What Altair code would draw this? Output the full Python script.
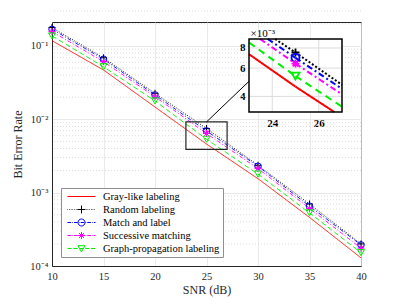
import altair as alt
import pandas as pd

# ---------------- data ----------------
snr = [10, 15, 20, 25, 30, 35, 40]
series_names = ["Gray-like labeling", "Random labeling", "Match and label",
                "Successive matching", "Graph-propagation labeling"]
ber_gray = [0.118, 0.047, 0.0147, 4.6e-3, 1.55e-3, 4.6e-4, 1.29e-4]
ber_random = [0.178, 0.069, 0.0226, 7.5e-3, 2.36e-3, 7.0e-4, 2.0e-4]
ber_match = [0.169, 0.066, 0.0215, 6.95e-3, 2.29e-3, 6.55e-4, 1.94e-4]
ber_succ = [0.157, 0.061, 0.0203, 6.4e-3, 2.13e-3, 6.1e-4, 1.75e-4]
ber_graph = [0.137, 0.052, 0.0178, 5.35e-3, 1.79e-3, 5.3e-4, 1.52e-4]
all_ber = [ber_gray, ber_random, ber_match, ber_succ, ber_graph]

x_ticks = [10, 15, 20, 25, 30, 35, 40]
y_ticks = [1e-4, 1e-3, 1e-2, 1e-1]
y_minor = [m * 10.0 ** e for e in (-4, -3, -2, -1) for m in range(2, 10)]
main_x_domain = [10, 40]
main_y_domain = [1e-4, 0.212]

# zoom box and connector (data coordinates of the main axes)
box_x = [23, 27]
box_y = [3.9e-3, 9.2e-3]
conn_x = [25, 29.13]
conn_y = [9.2e-3, 0.033]

# inset axes
inset_x = [23, 27]
inset_y = [3.2e-3, 9.1e-3]
inset_xticks = [24, 26]
inset_yticks = [4e-3, 6e-3, 8e-3]
inset_marker_snr = 25

# ---------------- styles ----------------
colors = ["#ff0000", "#000000", "#0000ff", "#ff00ff", "#00ee00"]
dash_main = [[1, 0], [1, 1.6], [4, 2, 1, 2], [4, 2, 1, 2], [5, 3]]
dash_inset = [[1, 0], [2, 2], [6, 3, 2, 3], [6, 3, 2, 3], [7, 5]]
PLUS = "M-1,0H1M0,-1V1"
AST = "M-1,0H1M0,-1V1M-0.7,-0.7L0.7,0.7M-0.7,0.7L0.7,-0.7"
shapes = [None, PLUS, "circle", AST, "triangle-down"]
msize = [0, 49, 42, 49, 49]


def dashed(pattern, start=-1.0, end=1.0):
    """Build a dashed horizontal path in [-1,1] units for legend symbols."""
    out, x, i = [], start, 0
    while x < end:
        seg = pattern[i % len(pattern)]
        if i % 2 == 0:
            out.append(f"M{x:.3f},0H{min(x + seg, end):.3f}")
        x += seg
        i += 1
    return "".join(out)


r = 0.25
legend_paths = [
    "M-1,0H1",
    dashed([0.04, 0.08]) + f"M-{r+0.03},0H{r+0.03}M0,-{r+0.03}V{r+0.03}",
    dashed([0.26, 0.08, 0.05, 0.08]) + f"M{r},0A{r},{r},0,1,1,-{r},0A{r},{r},0,1,1,{r},0",
    dashed([0.26, 0.08, 0.05, 0.08]) + f"M-{r},0H{r}M0,-{r}V{r}M-0.18,-0.18L0.18,0.18M-0.18,0.18L0.18,-0.18",
    dashed([0.3, 0.12]) + "M-0.25,-0.2L0.25,-0.2L0,0.25Z",
]

W, H = 309, 244
SERIF = "Liberation Serif"
AXC = "#262626"

rows = []
for k, name in enumerate(series_names):
    for s, b in zip(snr, all_ber[k]):
        rows.append({"series": name, "k": k, "snr": s, "ber": b})
df = pd.DataFrame(rows)


def xs_main():
    return alt.Scale(domain=main_x_domain, nice=False, zero=False)


def ys_main():
    return alt.Scale(type="log", domain=main_y_domain, nice=False)


x_axis = alt.Axis(values=x_ticks, title="SNR (dB)", grid=True, ticks=False, orient="bottom",
                  labelPadding=5, titlePadding=3, labelFlush=False)
y_axis = alt.Axis(values=y_ticks, title="Bit Error Rate", grid=True, ticks=False, orient="left",
                  labelPadding=4, titlePadding=5, labelFlush=False,
                  labelExpr="datum.value > 0.05 ? '10⁻¹' : datum.value > 0.005 ? '10⁻²' : datum.value > 0.0005 ? '10⁻³' : '10⁻⁴'")

layers = []
# minor grid (dotted horizontal lines)
layers.append(alt.Chart(pd.DataFrame({"v": y_minor})).mark_rule(
    color="#d2d2d2", strokeDash=[1, 2], strokeWidth=0.8
).encode(y=alt.Y("v:Q", scale=ys_main(), axis=None)))

for k, name in enumerate(series_names):
    d = df[df.k == k]
    layers.append(alt.Chart(d).mark_line(color=colors[k], strokeDash=dash_main[k], strokeWidth=0.9).encode(
        x=alt.X("snr:Q", scale=xs_main(), axis=x_axis if k == 0 else None),
        y=alt.Y("ber:Q", scale=ys_main(), axis=y_axis if k == 0 else None),
    ))
for k, name in enumerate(series_names):
    if shapes[k] is None:
        continue
    d = df[df.k == k]
    layers.append(alt.Chart(d).mark_point(shape=shapes[k], size=msize[k], color=colors[k],
                                          filled=False, strokeWidth=1, opacity=1).encode(
        x=alt.X("snr:Q", scale=xs_main(), axis=None),
        y=alt.Y("ber:Q", scale=ys_main(), axis=None),
    ))

layers.append(alt.Chart(pd.DataFrame({"x0": [box_x[0]], "x1": [box_x[1]], "y0": [box_y[0]], "y1": [box_y[1]]})).mark_rect(
    fill=None, fillOpacity=0, stroke=AXC, strokeWidth=1.2
).encode(
    x=alt.X("x0:Q", scale=xs_main(), axis=None), x2="x1:Q",
    y=alt.Y("y0:Q", scale=ys_main(), axis=None), y2="y1:Q",
))
layers.append(alt.Chart(pd.DataFrame({"x0": [conn_x[0]], "x1": [conn_x[1]], "y0": [conn_y[0]], "y1": [conn_y[1]]})).mark_rule(
    color="#000000", strokeWidth=1
).encode(
    x=alt.X("x0:Q", scale=xs_main(), axis=None), x2="x1:Q",
    y=alt.Y("y0:Q", scale=ys_main(), axis=None), y2="y1:Q",
))

# legend-only layer (no marks drawn, legend from explicit domain)
leg = alt.Legend(title=None, symbolSize=784, symbolStrokeWidth=1, symbolOpacity=1,
                 clipHeight=11, rowPadding=2, symbolOffset=3, labelOffset=7)
layers.append(alt.Chart(pd.DataFrame({"series": series_names})).transform_filter("false").mark_point(
    filled=False
).encode(
    color=alt.Color("series:N", scale=alt.Scale(domain=series_names, range=colors), legend=leg),
    shape=alt.Shape("series:N", scale=alt.Scale(domain=series_names, range=legend_paths), legend=leg),
))

# ---------------- inset ----------------
IX0, IX1 = 197, 290
IY0, IY1 = 90, 17


def xs_in():
    return alt.Scale(domain=inset_x, range=[IX0, IX1], nice=False, zero=False)


def ys_in():
    return alt.Scale(type="log", domain=inset_y, range=[IY0, IY1], nice=False)


inset_box_df = pd.DataFrame({"x0": [inset_x[0]], "x1": [inset_x[1]], "y0": [inset_y[0]], "y1": [inset_y[1]]})
in_x_axis = alt.Axis(orient="bottom", offset=-(H - IY0), values=inset_xticks, grid=False, ticks=False,
                     domain=False, title=None, labelFontWeight="bold", labelFontSize=11, labelPadding=5,
                     labelColor="#000000")
in_y_axis = alt.Axis(orient="left", offset=-IX0, values=inset_yticks, grid=False, ticks=False,
                     domain=False, labelFontWeight="bold", labelFontSize=11, labelPadding=4,
                     labelColor="#000000", labelExpr="format(datum.value*1000, 'd')",
                     title="×10⁻³", titleAngle=0, titleX=1, titleY=IY1 - 6, titleAlign="left",
                     titleBaseline="middle", titleFontWeight="normal", titleFontSize=11,
                     titleColor="#000000", titleFont=SERIF)

layers.append(alt.Chart(inset_box_df).mark_rect(fill="white", stroke=None).encode(
    x=alt.X("x0:Q", scale=xs_in(), axis=in_x_axis), x2="x1:Q",
    y=alt.Y("y0:Q", scale=ys_in(), axis=in_y_axis), y2="y1:Q",
))
layers.append(alt.Chart(pd.DataFrame({"g": inset_xticks})).mark_rule(color="#dcdcdc", strokeWidth=1).encode(
    x=alt.X("g:Q", scale=xs_in(), axis=None),
    y=alt.datum(inset_y[0], scale=ys_in(), axis=None), y2=alt.datum(inset_y[1]),
))
layers.append(alt.Chart(pd.DataFrame({"g": inset_yticks})).mark_rule(color="#dcdcdc", strokeWidth=1).encode(
    y=alt.Y("g:Q", scale=ys_in(), axis=None),
    x=alt.datum(inset_x[0], scale=xs_in(), axis=None), x2=alt.datum(inset_x[1]),
))

LYB = f"(log({inset_y[0]})/LN10)"
LYT = f"(log({inset_y[1]})/LN10)"
for k, name in enumerate(series_names):
    d = df[df.k == k]
    layers.append(
        alt.Chart(d)
        .transform_window(snr1="lead(snr)", ber1="lead(ber)", sort=[alt.SortField("snr")])
        .transform_filter("isValid(datum.snr1)")
        .transform_calculate(ly0="log(datum.ber)/LN10", ly1="log(datum.ber1)/LN10")
        .transform_calculate(dx="datum.snr1 - datum.snr", dy="datum.ly1 - datum.ly0")
        .transform_calculate(
            txa=f"({inset_x[0]} - datum.snr)/datum.dx",
            txb=f"({inset_x[1]} - datum.snr)/datum.dx",
            tya=f"({LYB} - datum.ly0)/datum.dy",
            tyb=f"({LYT} - datum.ly0)/datum.dy",
        )
        .transform_calculate(
            tlo="max(0, min(datum.txa, datum.txb), min(datum.tya, datum.tyb))",
            thi="min(1, max(datum.txa, datum.txb), max(datum.tya, datum.tyb))",
        )
        .transform_filter("datum.tlo < datum.thi")
        .transform_calculate(
            xs="datum.snr + datum.tlo*datum.dx",
            xe="datum.snr + datum.thi*datum.dx",
            ys="pow(10, datum.ly0 + datum.tlo*datum.dy)",
            ye="pow(10, datum.ly0 + datum.thi*datum.dy)",
        )
        .mark_rule(color=colors[k], strokeDash=dash_inset[k], strokeWidth=2)
        .encode(
            x=alt.X("xs:Q", scale=xs_in(), axis=None), x2="xe:Q",
            y=alt.Y("ys:Q", scale=ys_in(), axis=None), y2="ye:Q",
        ))
for k, name in enumerate(series_names):
    if shapes[k] is None:
        continue
    d = df[(df.k == k) & (df.snr == inset_marker_snr)]
    layers.append(alt.Chart(d).mark_point(shape=shapes[k], size=64, color=colors[k], filled=False,
                                          strokeWidth=1.8, opacity=1).encode(
        x=alt.X("snr:Q", scale=xs_in(), axis=None),
        y=alt.Y("ber:Q", scale=ys_in(), axis=None),
    ))
layers.append(alt.Chart(inset_box_df).mark_rect(fill=None, fillOpacity=0, stroke="#000000", strokeWidth=1.5).encode(
    x=alt.X("x0:Q", scale=xs_in(), axis=None), x2="x1:Q",
    y=alt.Y("y0:Q", scale=ys_in(), axis=None), y2="y1:Q",
))

chart = (alt.layer(*layers)
         .resolve_scale(x="independent", y="independent")
         .properties(width=W, height=H, autosize=alt.AutoSizeParams(type="none"),
                     padding={"left": 44, "top": 14, "right": 30, "bottom": 33})
         .configure_view(stroke=AXC, strokeWidth=1)
         .configure_axis(labelFont=SERIF, labelFontSize=10.5, labelColor=AXC,
                         titleFont=SERIF, titleFontSize=12, titleFontWeight="normal", titleColor=AXC,
                         gridColor="#e4e4e4", gridWidth=0.8, domainColor=AXC, domainWidth=1)
         .configure_legend(orient="bottom-left", offset=9, fillColor="white", strokeColor="#8f8f8f",
                           padding=3, labelFont=SERIF, labelFontSize=10.5, labelColor="#000000")
         )

chart.save("out.html", embed_options={"renderer": "svg", "actions": False})
